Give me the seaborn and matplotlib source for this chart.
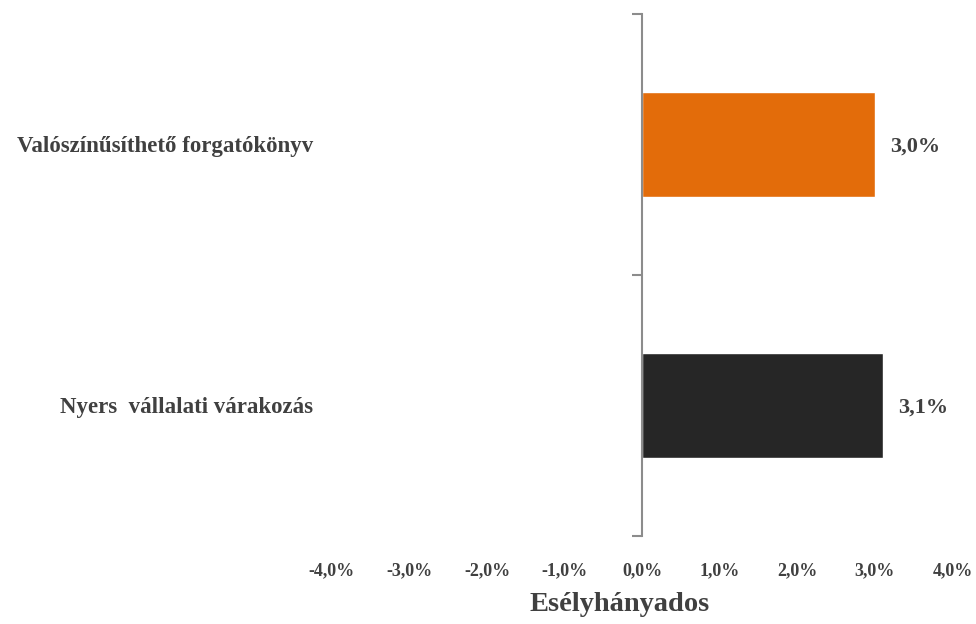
import matplotlib
matplotlib.use("Agg")
import matplotlib.pyplot as plt
import pandas as pd
import seaborn as sns

sns.set_theme(style="white")
plt.rcParams['font.family'] = ['Liberation Serif', 'DejaVu Serif']

# data
categories = ["Valószínűsíthető forgatókönyv", "Nyers  vállalati várakozás"]
values = [3.0, 3.1]
bar_colors = ["#E36C0A", "#262626"]
xticks = [-4, -3, -2, -1, 0, 1, 2, 3, 4]

txt = "#404040"
df = pd.DataFrame({"cat": categories, "val": values})

fig = plt.figure(figsize=(9.76, 6.24), dpi=100)
ax = fig.add_axes([0.340, 0.141, 0.636, 0.837])

sns.barplot(data=df, x="val", y="cat", hue="cat", palette=bar_colors,
            orient="h", width=0.4, legend=False, ax=ax, saturation=1)

ax.set_xlim(-4, 4)
ax.set_ylim(1.5, -0.5)

# spine at zero, only the left one shown
for s in ["top", "right", "bottom"]:
    ax.spines[s].set_visible(False)
ax.spines["left"].set_position(("data", 0))
ax.spines["left"].set_color("#8c8c8c")
ax.spines["left"].set_linewidth(1.5)

# boundary ticks (major) and category labels (minor)
ax.set_yticks([-0.5, 0.5, 1.5])
ax.set_yticklabels([])
ax.tick_params(axis="y", which="major", length=7, width=1.5, color="#8c8c8c", left=True)
ax.set_yticks([0, 1], minor=True)
ax.set_yticklabels(categories, minor=True, fontsize=16.5, fontweight="bold", color=txt)
ax.tick_params(axis="y", which="minor", length=0, pad=237)

ax.set_xticks(xticks)
ax.set_xticklabels([f"{t:.1f}%".replace(".", ",") for t in xticks],
                   fontsize=13, fontweight="bold", color=txt)
ax.tick_params(axis="x", length=0, pad=19)

ax.set_xlabel("Esélyhányados", fontsize=20.5, fontweight="bold", color=txt)
ax.xaxis.set_label_coords(0.464, -0.108)
ax.set_ylabel("")

for i, v in enumerate(values):
    ax.text(v + 0.2, i + 0.01, f"{v:.1f}%".replace(".", ","), va="center", ha="left",
            fontsize=16, fontweight="bold", color=txt)

fig.savefig("out.png", dpi=100)
